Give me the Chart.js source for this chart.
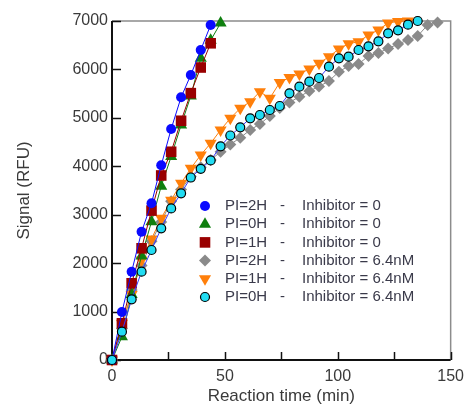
<!DOCTYPE html>
<html>
<head>
<meta charset="utf-8">
<script src="https://cdn.jsdelivr.net/npm/chart.js@4.4.0/dist/chart.umd.min.js"></script>
<style>
  body { margin: 0; background: #fff; }
  canvas { display: block; }
</style>
</head>
<body>
<canvas id="chart" width="471" height="407"></canvas>
<script>
// reaction time of each plate read (min)
var times = [0, 4.4, 8.7, 13.1, 17.5, 21.8, 26.2, 30.6, 34.9, 39.3, 43.7, 48.1, 52.4, 56.8,
  61.2, 65.5, 69.9, 74.3, 78.6, 83.0, 87.4, 91.7, 96.1, 100.5, 104.8, 109.2, 113.6, 118.0,
  122.3, 126.7, 131.1, 135.4, 139.8, 144.2];

var piLabels = ['PI=2H', 'PI=0H', 'PI=1H', 'PI=2H', 'PI=1H', 'PI=0H'];
var inhLabels = ['Inhibitor = 0', 'Inhibitor = 0', 'Inhibitor = 0',
  'Inhibitor = 6.4nM', 'Inhibitor = 6.4nM', 'Inhibitor = 6.4nM'];

// signal (RFU)
var pi2hInh0 = [0, 990, 1823, 2649, 3236, 4020, 4770, 5424, 5885, 6401, 6917];
var pi0hInh0 = [0, 480, 1350, 2150, 2856, 3590, 4200, 4850, 5450, 6230, 6600, 6958];
var pi1hInh0 = [0, 758, 1584, 2306, 3085, 3810, 4300, 4940, 5510, 6040, 6540];
var pi2hInh = [0, 650, 1445, 1950, 2450, 2850, 3280, 3520, 3790, 3980, 4130, 4300, 4450,
  4590, 4749, 4873, 5038, 5203, 5317, 5437, 5554, 5647, 5761, 5953, 6071, 6112, 6277,
  6339, 6432, 6525, 6607, 6690, 6917, 6969];
var pi1hInh = [0, 760, 1350, 2065, 2500, 2926, 3300, 3650, 3958, 4233, 4475, 4749, 4991,
  5197, 5333, 5540, 5404, 5730, 5833, 5906, 6009, 6126, 6263, 6422, 6529, 6573, 6711,
  6814, 6960, 6990, 7000];
var pi0hInh = [0, 584, 1253, 1823, 2271, 2719, 3130, 3442, 3768, 3948, 4120, 4413, 4636,
  4805, 4991, 5059, 5162, 5245, 5507, 5643, 5747, 5823, 6056, 6230, 6263, 6401, 6478,
  6581, 6746, 6808, 6924, 7000];

var xTicks = [0, 50, 100, 150];

function pts(vals) {
  var out = [];
  for (var i = 0; i < vals.length; i++) {
    out.push({x: times[i], y: vals[i]});
  }
  return out;
}

function series(vals, color, line, style, radius, extra) {
  var ds = {
    data: pts(vals),
    borderColor: line,
    borderWidth: 1,
    backgroundColor: color,
    pointBackgroundColor: color,
    pointBorderColor: color,
    pointBorderWidth: 0,
    pointStyle: style,
    pointRadius: radius,
    pointHoverRadius: radius,
    tension: 0,
    clip: false
  };
  for (var k in extra) ds[k] = extra[k];
  return ds;
}

var datasets = [
  series(pi2hInh0, '#0a0aff', '#0a0aff', 'circle', 5, {order: 1}),
  series(pi0hInh0, '#0f7f0f', '#0f7f0f', 'triangle', 7, {order: 3}),
  series(pi1hInh0, '#990000', '#990000', 'rect', 7.5, {order: 2}),
  series(pi2hInh, '#8a8a8a', '#8a8a8a', 'rectRot', 6, {order: 5}),
  series(pi1hInh, '#ff7f0a', '#ff7f0a', 'triangle', 7, {order: 4, pointRotation: 180}),
  series(pi0hInh, '#22dcf2', '#3a3aff', 'circle', 4.5, {order: 0, pointBorderColor: '#000', pointBorderWidth: 1.2})
];

// axis frame with inward tick marks
var framePlugin = {
  id: 'frame',
  beforeDatasetsDraw: function(chart) {
    var ctx = chart.ctx, a = chart.chartArea;
    var sx = chart.scales.x, sy = chart.scales.y;
    ctx.save();
    ctx.lineWidth = 1.5;
    ctx.strokeStyle = '#8c8c8c';
    ctx.beginPath();
    ctx.moveTo(a.left, a.top);
    ctx.lineTo(a.right, a.top);
    ctx.lineTo(a.right, a.bottom);
    ctx.stroke();
    ctx.strokeStyle = '#111';
    ctx.lineWidth = 2;
    ctx.beginPath();
    ctx.moveTo(a.left, a.top);
    ctx.lineTo(a.left, a.bottom);
    ctx.lineTo(a.right, a.bottom);
    ctx.stroke();
    ctx.lineWidth = 1.5;
    ctx.beginPath();
    sy.ticks.forEach(function(t) {
      var py = Math.round(sy.getPixelForValue(t.value)) + 0.5;
      ctx.moveTo(a.left, py);
      ctx.lineTo(a.left + 9, py);
    });
    sx.ticks.forEach(function(t) {
      var px = Math.round(sx.getPixelForValue(t.value)) + 0.5;
      ctx.moveTo(px, a.bottom);
      ctx.lineTo(px, a.bottom - 8);
    });
    ctx.stroke();
    ctx.restore();
  }
};

// legend drawn inside the plot
var legendPlugin = {
  id: 'inLegend',
  afterDatasetsDraw: function(chart) {
    var ctx = chart.ctx, a = chart.chartArea;
    var x0 = a.left + 93, y0 = a.top + 185, step = 18.2;
    ctx.save();
    ctx.font = '15px "Liberation Sans", Arial, sans-serif';
    ctx.textBaseline = 'middle';
    chart.data.datasets.forEach(function(ds, i) {
      var y = y0 + i * step;
      ctx.fillStyle = ds.pointBackgroundColor;
      ctx.strokeStyle = ds.pointBorderColor;
      ctx.lineWidth = ds.pointBorderWidth;
      Chart.helpers.drawPoint(ctx, {
        pointStyle: ds.pointStyle,
        rotation: ds.pointRotation || 0,
        radius: ds.pointRadius,
        borderWidth: ds.pointBorderWidth
      }, x0, y);
      ctx.fillStyle = '#3a3a4a';
      ctx.textAlign = 'left';
      ctx.fillText(piLabels[i], x0 + 20, y);
      ctx.fillText('-', x0 + 75, y);
      ctx.fillText(inhLabels[i], x0 + 97, y);
    });
    ctx.restore();
  }
};

Chart.defaults.font.family = '"Liberation Sans", Arial, sans-serif';
Chart.defaults.color = '#3a3a3a';

new Chart(document.getElementById('chart'), {
  type: 'line',
  data: { datasets: datasets },
  options: {
    responsive: false,
    animation: false,
    layout: { padding: { top: 21, right: 17, left: 0, bottom: 0 } },
    plugins: { legend: { display: false }, tooltip: { enabled: false } },
    scales: {
      x: {
        type: 'linear',
        min: 0,
        max: 150,
        grid: { display: false, drawTicks: false, tickLength: 0 },
        border: { display: false },
        ticks: {
          stepSize: 25,
          padding: 7,
          font: { size: 16 },
          maxRotation: 0,
          callback: function(v) { return xTicks.indexOf(v) >= 0 ? String(v) : ''; }
        },
        title: { display: true, text: 'Reaction time (min)', font: { size: 17 }, padding: 0 },
        afterFit: function(s) { s.height = 47; }
      },
      y: {
        type: 'linear',
        min: 0,
        max: 7000,
        grid: { display: false, drawTicks: false, tickLength: 0 },
        border: { display: false },
        ticks: { stepSize: 1000, padding: 4, font: { size: 16 },
          callback: function(v) { return String(v); } },
        title: { display: true, text: 'Signal (RFU)', font: { size: 17 }, padding: { top: 14, bottom: 4 } },
        afterFit: function(s) { s.width = 112; }
      }
    }
  },
  plugins: [framePlugin, legendPlugin]
});
</script>
</body>
</html>
